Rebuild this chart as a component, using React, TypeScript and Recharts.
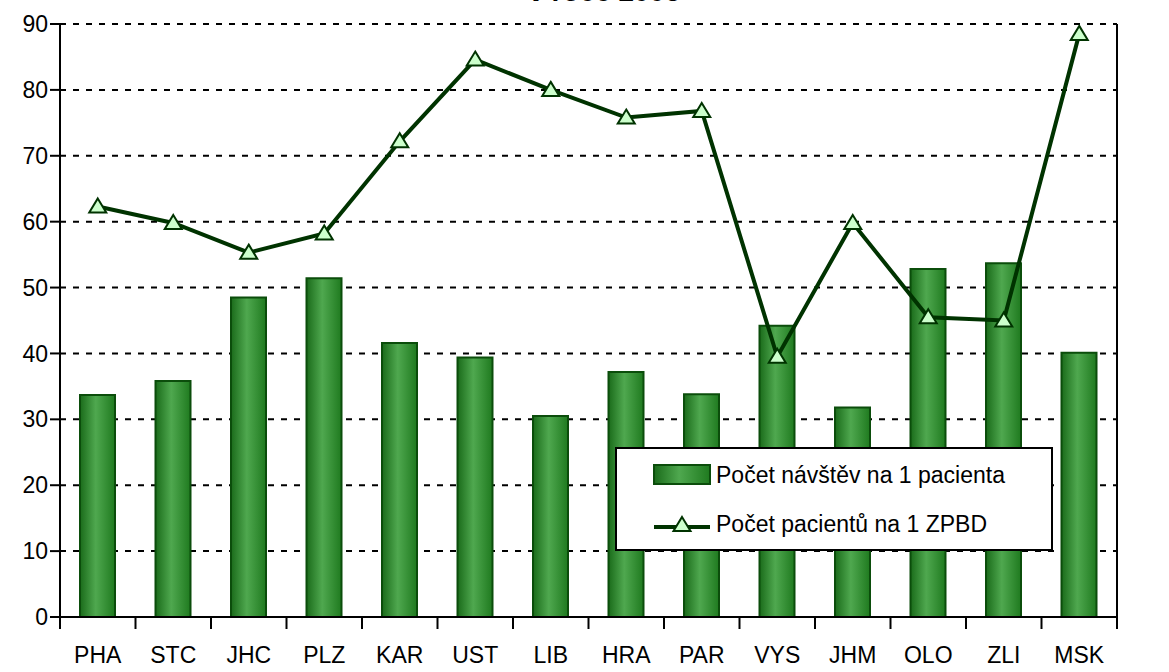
import React from 'react'
import {
  ComposedChart,
  Bar,
  Line,
  XAxis,
  YAxis,
  CartesianGrid
} from 'recharts'

const regions = ['PHA', 'STC', 'JHC', 'PLZ', 'KAR', 'UST', 'LIB', 'HRA', 'PAR', 'VYS', 'JHM', 'OLO', 'ZLI', 'MSK']
const visitsPerPatient = [33.7, 35.8, 48.5, 51.4, 41.6, 39.4, 30.5, 37.2, 33.8, 44.2, 31.8, 52.8, 53.7, 40.1]
const patientsPerUnit = [62.3, 59.8, 55.3, 58.2, 72.2, 84.6, 80.0, 75.8, 76.8, 39.5, 59.8, 45.5, 45.0, 88.5]
const yTicks = [0, 10, 20, 30, 40, 50, 60, 70, 80, 90]

const data = regions.map((r, i) => ({
  region: r,
  visits: visitsPerPatient[i],
  patients: patientsPerUnit[i]
}))

const W = 1169
const H = 672
const PLOT_LEFT = 60
const PLOT_RIGHT = 1117
const BAND = (PLOT_RIGHT - PLOT_LEFT) / regions.length

const font = '"Liberation Sans", Arial, sans-serif'

// tick marks sit between categories, like in Excel
const CategoryTick = ({ x, y, payload }: any) => (
  <g>
    <line x1={x - BAND / 2} y1={y - 8} x2={x - BAND / 2} y2={y + 4} stroke="#000" strokeWidth={2} />
    {payload.index === regions.length - 1 && (
      <line x1={x + BAND / 2} y1={y - 8} x2={x + BAND / 2} y2={y + 4} stroke="#000" strokeWidth={2} />
    )}
    <text x={x} y={y + 38} textAnchor="middle" fontSize={23} fill="#000" fontFamily={font}>
      {payload.value}
    </text>
  </g>
)

const Triangle = ({ cx, cy }: any) => {
  if (cx == null || cy == null) return null
  return (
    <polygon
      points={`${cx},${cy - 8} ${cx + 8.5},${cy + 6} ${cx - 8.5},${cy + 6}`}
      fill="#ccffcc"
      stroke="#003300"
      strokeWidth={2}
    />
  )
}

const LegendBox = () => (
  <div
    style={{
      position: 'absolute',
      left: 615,
      top: 447,
      width: 434,
      height: 100,
      border: '2px solid #000',
      background: '#fff',
      fontFamily: font,
      fontSize: 23,
      color: '#000'
    }}
  >
    <div style={{ display: 'flex', alignItems: 'center', height: 52, paddingLeft: 35 }}>
      <svg width={62} height={24} style={{ marginRight: 2 }}>
        <defs>
          <linearGradient id="legGrad" x1="0" y1="0" x2="1" y2="0">
            <stop offset="0%" stopColor="#1a6b1a" />
            <stop offset="45%" stopColor="#4fa84f" />
            <stop offset="100%" stopColor="#1f7a1f" />
          </linearGradient>
        </defs>
        <rect x={2} y={2} width={56} height={19} fill="url(#legGrad)" stroke="#0b4d0b" strokeWidth={2} />
      </svg>
      <span>Počet návštěv na 1 pacienta</span>
    </div>
    <div style={{ display: 'flex', alignItems: 'center', height: 46, paddingLeft: 35 }}>
      <svg width={62} height={24} style={{ marginRight: 2 }}>
        <line x1={2} y1={15} x2={58} y2={15} stroke="#003300" strokeWidth={4} />
        <polygon points="30,5 38.5,19 21.5,19" fill="#ccffcc" stroke="#003300" strokeWidth={2} />
      </svg>
      <span>Počet pacientů na 1 ZPBD</span>
    </div>
  </div>
)

export default function App() {
  return (
    <div style={{ position: 'absolute', left: 0, top: 0, width: W, height: H, overflow: 'hidden', background: '#fff' }}>
      <div
        style={{
          position: 'absolute',
          top: -22,
          left: 0,
          width: W,
          textAlign: 'center',
          fontFamily: font,
          fontWeight: 'bold',
          fontSize: 28,
          lineHeight: '28px',
          paddingLeft: 20
        }}
      >
        v roce 2005
      </div>
      <ComposedChart
        width={W}
        height={H}
        data={data}
        margin={{ top: 24, right: 0, left: 0, bottom: 0 }}
        barSize={35}
      >
        <defs>
          <linearGradient id="barGrad" x1="0" y1="0" x2="1" y2="0">
            <stop offset="0%" stopColor="#1a6b1a" />
            <stop offset="45%" stopColor="#4fa84f" />
            <stop offset="100%" stopColor="#1f7a1f" />
          </linearGradient>
        </defs>
        <CartesianGrid
          horizontal
          vertical={false}
          stroke="#000"
          strokeWidth={2}
          strokeDasharray="6 7"
          yAxisId="left"
        />
        <XAxis
          dataKey="region"
          height={55}
          axisLine={{ stroke: '#000', strokeWidth: 2 }}
          tickLine={false}
          interval={0}
          tick={<CategoryTick />}
        />
        <YAxis
          yAxisId="left"
          width={60}
          domain={[0, 90]}
          ticks={yTicks}
          interval={0}
          axisLine={{ stroke: '#000', strokeWidth: 2 }}
          tickLine={{ stroke: '#000', strokeWidth: 2 }}
          tickSize={10}
          tick={{ fill: '#000', fontSize: 23, fontFamily: font }}
        />
        <YAxis
          yAxisId="right"
          orientation="right"
          width={52}
          domain={[0, 90]}
          ticks={yTicks}
          interval={0}
          axisLine={{ stroke: '#000', strokeWidth: 2 }}
          tickLine={{ stroke: '#000', strokeWidth: 2 }}
          tickSize={10}
          tick={{ fill: '#000', fontSize: 23, fontFamily: font }}
        />
        <Bar
          yAxisId="left"
          dataKey="visits"
          name="Počet návštěv na 1 pacienta"
          fill="url(#barGrad)"
          stroke="#0b4d0b"
          strokeWidth={2}
          isAnimationActive={false}
        />
        <Line
          yAxisId="left"
          type="linear"
          dataKey="patients"
          name="Počet pacientů na 1 ZPBD"
          stroke="#003300"
          strokeWidth={4}
          dot={<Triangle />}
          activeDot={false}
          isAnimationActive={false}
        />
      </ComposedChart>
      <LegendBox />
    </div>
  )
}
